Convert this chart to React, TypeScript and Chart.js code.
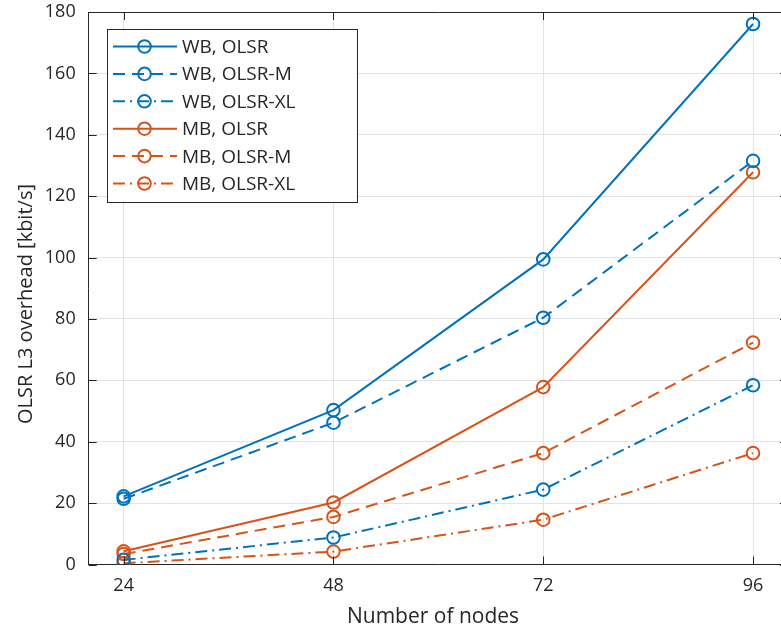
import React, { useEffect, useRef } from "react";
import { Chart, registerables } from "chart.js";

Chart.register(...registerables);

const nodeCounts = [24, 48, 72, 96];
const xTicks = [24, 48, 72, 96];

const wbOlsr = [22.2, 50.3, 99.4, 176.1];
const wbOlsrM = [21.4, 46.2, 80.4, 131.5];
const wbOlsrXL = [1.5, 8.8, 24.4, 58.4];
const mbOlsr = [4.3, 20.2, 57.8, 127.8];
const mbOlsrM = [3.4, 15.5, 36.3, 72.3];
const mbOlsrXL = [0.4, 4.2, 14.6, 36.3];

const seriesLabels = [
  "WB, OLSR",
  "WB, OLSR-M",
  "WB, OLSR-XL",
  "MB, OLSR",
  "MB, OLSR-M",
  "MB, OLSR-XL",
];

const xTitle = "Number of nodes";
const yTitle = "OLSR L3 overhead [kbit/s]";

const BLUE = "#0072BD";
const ORANGE = "#D95319";
const AXIS = "#262626";
const FONT = "'Open Sans', sans-serif";

const SOLID: number[] = [];
const DASHED = [12, 7];
const DASHDOT = [12, 5, 2, 5];

const seriesDefs = [
  { values: wbOlsr, color: BLUE, dash: SOLID },
  { values: wbOlsrM, color: BLUE, dash: DASHED },
  { values: wbOlsrXL, color: BLUE, dash: DASHDOT },
  { values: mbOlsr, color: ORANGE, dash: SOLID },
  { values: mbOlsrM, color: ORANGE, dash: DASHED },
  { values: mbOlsrXL, color: ORANGE, dash: DASHDOT },
];

// Inward tick marks, top box edge, axis titles and the in-plot legend
const boxPlugin = {
  id: "boxAndLegend",
  afterDatasetsDraw(chart: any) {
    const { ctx, chartArea, scales } = chart;
    const { left, right, top, bottom } = chartArea;
    const tl = 8;
    ctx.save();
    ctx.strokeStyle = AXIS;
    ctx.lineWidth = 1;
    ctx.beginPath();
    ctx.moveTo(left, Math.round(top) + 0.5);
    ctx.lineTo(right, Math.round(top) + 0.5);
    xTicks.forEach((v) => {
      const px = Math.round(scales.x.getPixelForValue(v)) + 0.5;
      ctx.moveTo(px, bottom);
      ctx.lineTo(px, bottom - tl);
      ctx.moveTo(px, top);
      ctx.lineTo(px, top + tl);
    });
    for (let v = 0; v <= 180; v += 20) {
      const py = Math.round(scales.y.getPixelForValue(v)) + 0.5;
      ctx.moveTo(left, py);
      ctx.lineTo(left + tl, py);
      ctx.moveTo(right, py);
      ctx.lineTo(right - tl, py);
    }
    ctx.stroke();

    // axis titles
    ctx.fillStyle = AXIS;
    ctx.textAlign = "center";
    ctx.textBaseline = "middle";
    ctx.font = `21px ${FONT}`;
    ctx.fillText(xTitle, 433, 617);
    ctx.save();
    ctx.translate(26, 304);
    ctx.rotate(-Math.PI / 2);
    ctx.font = `20px ${FONT}`;
    ctx.fillText(yTitle, 0, 0);
    ctx.restore();

    // legend
    const bx = 107.5;
    const by = 29.5;
    const bw = 250;
    const bh = 173;
    ctx.fillStyle = "#ffffff";
    ctx.fillRect(bx, by, bw, bh);
    ctx.strokeStyle = AXIS;
    ctx.lineWidth = 1;
    ctx.strokeRect(bx, by, bw, bh);
    ctx.font = `19px ${FONT}`;
    ctx.textBaseline = "middle";
    ctx.textAlign = "left";
    seriesDefs.forEach((s, i) => {
      const cy = 46.5 + i * 27.4;
      ctx.strokeStyle = s.color;
      ctx.lineWidth = 2;
      ctx.setLineDash(s.dash);
      ctx.beginPath();
      ctx.moveTo(113, cy);
      ctx.lineTo(177, cy);
      ctx.stroke();
      ctx.setLineDash([]);
      ctx.beginPath();
      ctx.arc(144.5, cy, 6.3, 0, Math.PI * 2);
      ctx.stroke();
      ctx.fillStyle = AXIS;
      ctx.fillText(seriesLabels[i], 182, cy + 1);
    });
    ctx.restore();
  },
};

export default function App() {
  const canvasRef = useRef<HTMLCanvasElement | null>(null);

  useEffect(() => {
    if (!canvasRef.current) return;
    const chart = new Chart(canvasRef.current, {
      type: "line",
      data: {
        datasets: seriesDefs.map((s, i) => ({
          label: seriesLabels[i],
          data: nodeCounts.map((n, k) => ({ x: n, y: s.values[k] })),
          borderColor: s.color,
          backgroundColor: "transparent",
          borderWidth: 2,
          borderDash: s.dash,
          pointStyle: "circle",
          pointRadius: 6.3,
          pointBorderWidth: 2,
          pointBorderColor: s.color,
          pointBackgroundColor: "transparent",
          fill: false,
          tension: 0,
        })),
      },
      options: {
        responsive: false,
        animation: false,
        devicePixelRatio: 1,
        layout: { padding: { top: 12, right: 12, left: 0, bottom: 0 } },
        plugins: {
          legend: { display: false },
          tooltip: { enabled: false },
        },
        scales: {
          x: {
            type: "linear",
            min: 20,
            max: 100,
            afterBuildTicks: (scale: any) => {
              scale.ticks = xTicks.map((v) => ({ value: v }));
            },
            afterFit: (scale: any) => {
              scale.height = 67.5;
              scale.paddingLeft = 0;
              scale.paddingRight = 0;
            },
            grid: { color: "#e3e3e3", drawTicks: false, lineWidth: 1 },
            border: { display: true, color: AXIS, width: 1 },
            ticks: {
              color: AXIS,
              font: { family: FONT, size: 18 },
              padding: 11,
              maxRotation: 0,
              callback: (v: any) => String(v),
            },
          },
          y: {
            min: 0,
            max: 180,
            afterFit: (scale: any) => {
              scale.width = 88.7;
              scale.paddingTop = 0;
              scale.paddingBottom = 0;
            },
            grid: { color: "#e3e3e3", drawTicks: false, lineWidth: 1 },
            border: { display: true, color: AXIS, width: 1 },
            ticks: {
              stepSize: 20,
              color: AXIS,
              font: { family: FONT, size: 18 },
              padding: 13,
            },
          },
        },
      },
      plugins: [boxPlugin],
    });
    return () => chart.destroy();
  }, []);

  return (
    <div style={{ position: "fixed", left: 0, top: 0, width: 800, height: 632, background: "#fff" }}>
      <canvas ref={canvasRef} width={800} height={632} style={{ width: 800, height: 632, display: "block" }} />
    </div>
  );
}
